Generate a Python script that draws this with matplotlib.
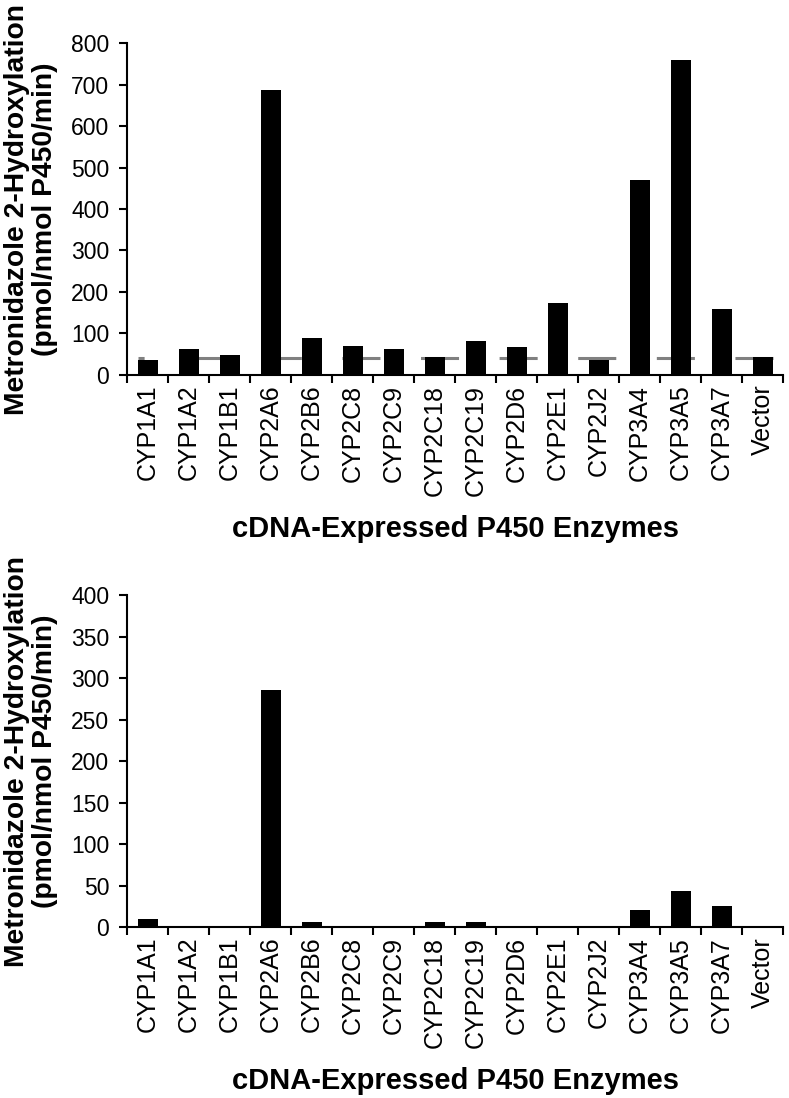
import numpy as np
import matplotlib
matplotlib.use('Agg')
import matplotlib.pyplot as plt

plt.rcParams['font.family'] = ['Liberation Sans', 'DejaVu Sans']
plt.rcParams['lines.scale_dashes'] = False

enzymes = ['CYP1A1', 'CYP1A2', 'CYP1B1', 'CYP2A6', 'CYP2B6', 'CYP2C8', 'CYP2C9',
           'CYP2C18', 'CYP2C19', 'CYP2D6', 'CYP2E1', 'CYP2J2', 'CYP3A4', 'CYP3A5',
           'CYP3A7', 'Vector']
top_vals = [36, 62, 47, 687, 90, 70, 63, 43, 82, 67, 173, 36, 470, 759, 158, 43]
bottom_vals = [10, 0, 0, 285, 6, 0, 0, 6, 6, 0, 0, 0, 21, 44, 25, 0]
vector_level = 40

ylab = 'Metronidazole 2-Hydroxylation\n(pmol/nmol P450/min)'
xlab = 'cDNA-Expressed P450 Enzymes'

fig = plt.figure(figsize=(7.89, 10.98), dpi=100)
ax1 = fig.add_axes([0.1613, 0.6585, 0.8314, 0.3023])
ax2 = fig.add_axes([0.1613, 0.1557, 0.8314, 0.3024])

x = np.arange(len(enzymes))

def style(ax, vals, ymax, step):
    ax.bar(x, vals, width=0.49, color='black', zorder=3)
    ax.set_xlim(-0.5, len(enzymes) - 0.5)
    ax.set_ylim(0, ymax)
    ax.set_yticks(np.arange(0, ymax + 1, step))
    ax.set_xticks(x)
    ax.set_xticklabels(enzymes, rotation=90)
    ax.set_xticks(np.arange(-0.5, len(enzymes)), minor=True)
    ax.tick_params(axis='x', which='major', length=0, pad=7, labelsize=18)
    ax.tick_params(axis='x', which='minor', length=6, width=1.5, direction='out')
    ax.tick_params(axis='y', length=6, width=1.5, direction='out', labelsize=16.5, pad=7)
    for s in ['top', 'right']:
        ax.spines[s].set_visible(False)
    for s in ['left', 'bottom']:
        ax.spines[s].set_linewidth(1.5)
    ax.set_ylabel(ylab, fontsize=20.3, fontweight='bold', labelpad=9, linespacing=1.12)
    ax.set_xlabel(xlab, fontsize=21, fontweight='bold', labelpad=14)

style(ax1, top_vals, 800, 100)
style(ax2, bottom_vals, 400, 50)

# vector background level, dashed line behind the bars
ax1.plot([-0.25, len(enzymes) - 0.75], [vector_level, vector_level], color='#808080',
         lw=2.2, linestyle=(23, (27.4, 29.2)), zorder=2, solid_capstyle='butt',
         dash_capstyle='butt')

fig.savefig('out.png', dpi=100)
